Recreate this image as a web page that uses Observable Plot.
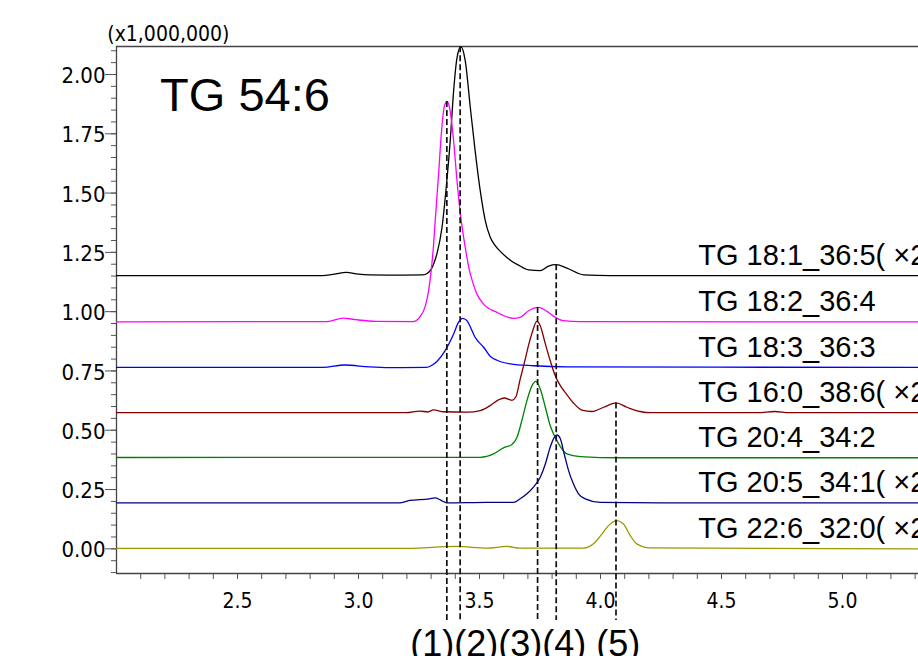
<!DOCTYPE html>
<html><head><meta charset="utf-8">
<script src="https://cdn.jsdelivr.net/npm/d3@7"></script>
<script src="https://cdn.jsdelivr.net/npm/@observablehq/plot@0.6"></script>
<style>html,body{margin:0;padding:0;background:#fff;overflow:hidden;} svg{display:block;overflow:hidden;}</style>
</head><body><div id="chart"></div><script>
// ---- data ----
const seriesNames = ["TG 18:1_36:5( ×2)", "TG 18:2_36:4", "TG 18:3_36:3", "TG 16:0_38:6( ×2)", "TG 20:4_34:2", "TG 20:5_34:1( ×2)", "TG 22:6_32:0( ×2)"];
const seriesColors = ["#000000", "#ff00ff", "#0000ff", "#800000", "#008000", "#000080", "#999900"];
const seriesBaselines = [1.152, 0.957, 0.765, 0.574, 0.385, 0.194, 0.0];

const traceBlack = [[2.0,1.152],[2.85,1.152],[2.90,1.158],[2.949,1.166],[3.0,1.158],[3.044,1.155],[3.15,1.154],[3.266,1.155],[3.285,1.162],[3.30,1.178],[3.312,1.205],[3.324,1.244],[3.345,1.355],[3.365,1.552],[3.379,1.72],[3.393,1.93],[3.407,2.07],[3.423,2.117],[3.441,2.058],[3.462,1.861],[3.482,1.678],[3.503,1.51],[3.524,1.383],[3.544,1.315],[3.565,1.278],[3.59,1.25],[3.63,1.215],[3.661,1.196],[3.703,1.176],[3.751,1.173],[3.785,1.192],[3.817,1.198],[3.861,1.184],[3.93,1.155],[4.04,1.152],[5.32,1.152]];
const traceMagenta = [[2.0,0.957],[2.87,0.958],[2.936,0.973],[2.99,0.966],[3.073,0.959],[3.225,0.958],[3.252,0.976],[3.275,1.02],[3.29,1.09],[3.30,1.17],[3.31,1.28],[3.317,1.384],[3.331,1.581],[3.34,1.72],[3.354,1.862],[3.365,1.886],[3.376,1.861],[3.393,1.72],[3.407,1.552],[3.421,1.412],[3.441,1.271],[3.462,1.159],[3.47,1.131],[3.489,1.075],[3.517,1.032],[3.572,0.997],[3.64,0.972],[3.668,0.976],[3.703,1.004],[3.744,1.018],[3.779,1.001],[3.813,0.976],[3.847,0.962],[3.916,0.958],[5.32,0.957]];
const traceBlue = [[2.0,0.765],[2.853,0.765],[2.942,0.775],[3.045,0.767],[3.128,0.764],[3.28,0.765],[3.30,0.772],[3.324,0.79],[3.358,0.836],[3.393,0.906],[3.413,0.955],[3.43,0.972],[3.448,0.962],[3.469,0.92],[3.48,0.895],[3.49,0.88],[3.517,0.85],[3.544,0.812],[3.572,0.795],[3.627,0.78],[3.723,0.772],[3.861,0.767],[5.32,0.765]];
const traceBrown = [[2.0,0.574],[3.197,0.574],[3.252,0.581],[3.287,0.577],[3.31,0.586],[3.351,0.578],[3.45,0.576],[3.503,0.583],[3.544,0.604],[3.578,0.628],[3.602,0.636],[3.634,0.626],[3.65,0.64],[3.668,0.715],[3.689,0.8],[3.703,0.86],[3.717,0.91],[3.737,0.959],[3.751,0.941],[3.772,0.864],[3.792,0.794],[3.813,0.73],[3.834,0.688],[3.861,0.65],[3.888,0.615],[3.923,0.585],[3.965,0.579],[4.013,0.597],[4.064,0.615],[4.109,0.597],[4.164,0.579],[4.205,0.574],[4.65,0.574],[4.72,0.579],[4.78,0.574],[5.32,0.574]];
const traceGreen = [[2.0,0.385],[3.503,0.386],[3.558,0.40],[3.599,0.426],[3.634,0.44],[3.655,0.47],[3.675,0.541],[3.696,0.625],[3.717,0.688],[3.733,0.706],[3.751,0.674],[3.772,0.597],[3.792,0.52],[3.813,0.47],[3.834,0.431],[3.861,0.40],[3.916,0.389],[4.081,0.384],[5.32,0.384]];
const traceNavy = [[2.0,0.194],[3.169,0.194],[3.211,0.204],[3.293,0.211],[3.317,0.215],[3.34,0.205],[3.365,0.194],[3.531,0.196],[3.64,0.196],[3.668,0.211],[3.696,0.232],[3.723,0.26],[3.751,0.302],[3.772,0.358],[3.792,0.428],[3.809,0.47],[3.82,0.48],[3.834,0.464],[3.85,0.40],[3.868,0.33],[3.888,0.274],[3.909,0.232],[3.937,0.211],[3.999,0.196],[4.247,0.194],[5.32,0.194]];
const traceOlive = [[2.0,0.002],[3.2,0.002],[3.407,0.01],[3.531,0.003],[3.613,0.01],[3.668,0.003],[3.93,0.003],[3.971,0.021],[4.006,0.063],[4.033,0.098],[4.068,0.119],[4.095,0.105],[4.123,0.056],[4.15,0.021],[4.205,0.004],[5.32,0.0]];

const peakX = [3.365, 3.42, 3.74, 3.817, 4.064];
const peakTop = [1.886, 2.117, 1.018, 1.198, 0.615];
const peakBottom = -0.302;
const peakLabelText = "(1)(2)(3)(4) (5)";

const xMajorTicks = [2.5, 3.0, 3.5, 4.0, 4.5, 5.0];
const xMinorTicks = d3.range(21, 54).map(d => d / 10);
const yMajorTicks = [0, 0.25, 0.5, 0.75, 1.0, 1.25, 1.5, 1.75, 2.0];
const yMinorTicks = d3.range(-2, 43).map(d => d / 20);

const title = "TG 54:6";
const unitLabel = "(x1,000,000)";
const xDomain = [2.0, 5.314];
const yDomain = [-0.104, 2.118];
const labelX = 4.404;

// ---- build tables ----
const traces = [traceBlack, traceMagenta, traceBlue, traceBrown, traceGreen, traceNavy, traceOlive];
const rows = traces.flatMap((pts, i) => pts.map(([x, y]) => ({series: seriesNames[i], x, y})));
const labels = seriesNames.map((name, i) => ({name, y: seriesBaselines[i]}));
const peaks = peakX.map((x, i) => ({x, top: peakTop[i]}));

const narrow = "'DejaVu Sans Condensed', 'Liberation Sans Narrow', sans-serif";
const sans = "'Liberation Sans', Arial, sans-serif";

const chart = Plot.plot({
  width: 918, height: 656,
  marginLeft: 116, marginRight: 0, marginTop: 46, marginBottom: 83,
  x: {domain: xDomain, axis: null},
  y: {domain: yDomain, axis: null},
  color: {domain: seriesNames, range: seriesColors},
  style: {background: "white", color: "black"},
  marks: [
    Plot.axisX(xMinorTicks, {tickSize: 6, stroke: "#555", fill: "none", label: null}),
    Plot.axisY(yMinorTicks, {tickSize: 5, stroke: "#555", fill: "none", label: null}),
    Plot.axisY(yMajorTicks, {tickSize: 11, stroke: "#555", fill: "none", label: null}),
    Plot.text(yMajorTicks, {x: () => xDomain[0], y: d => d, text: d3.format(".2f"), textAnchor: "end", dx: -11, dy: 1.5, fontSize: 22, fontFamily: narrow, fill: "black"}),
    Plot.text(xMajorTicks, {x: d => d, y: () => yDomain[0], text: d3.format(".1f"), lineAnchor: "top", dy: 20, fontSize: 21, fontFamily: narrow, fill: "black"}),
    Plot.ruleY([yDomain[1]], {stroke: "#444", strokeWidth: 1.3}),
    Plot.ruleY([yDomain[0]], {stroke: "#444", strokeWidth: 1.3}),
    Plot.ruleX([xDomain[0]], {stroke: "#444", strokeWidth: 1.3}),
    Plot.line(rows, {x: "x", y: "y", z: "series", stroke: "series", strokeWidth: 1.3, curve: "monotone-x"}),
    Plot.ruleX(peaks, {x: "x", y1: "top", y2: () => peakBottom, stroke: "#111", strokeWidth: 1.7, strokeDasharray: "6,3"}),
    Plot.text(labels, {x: () => labelX, y: "y", text: "name", textAnchor: "start", lineAnchor: "bottom", dy: -10.5, fontSize: 29, fontFamily: sans, fill: "black"}),
    Plot.text([title], {x: () => 2.18, y: () => 1.847, text: d => d, textAnchor: "start", lineAnchor: "bottom", fontSize: 47, fontFamily: sans, fill: "black"}),
    Plot.text([unitLabel], {x: () => 1.962, y: () => 2.142, text: d => d, textAnchor: "start", lineAnchor: "bottom", fontSize: 21, fontFamily: narrow, fill: "black"}),
    Plot.text([peakLabelText], {x: () => 3.2137, y: () => -0.453, text: d => d, textAnchor: "start", lineAnchor: "bottom", fontSize: 36, fontFamily: sans, fill: "black"})
  ]
});
document.getElementById("chart").appendChild(chart);
</script></body></html>
